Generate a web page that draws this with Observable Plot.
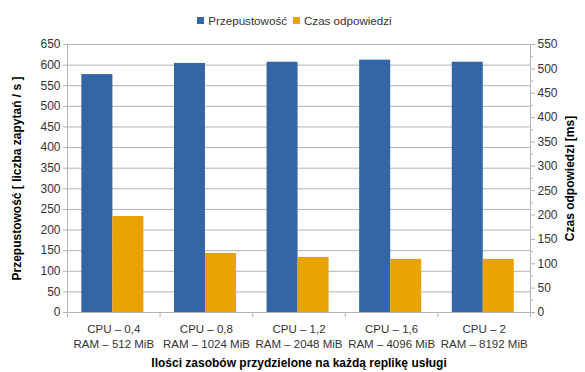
<!DOCTYPE html>
<html>
<head>
<meta charset="utf-8">
<script src="https://cdn.jsdelivr.net/npm/d3@7"></script>
<script src="https://cdn.jsdelivr.net/npm/@observablehq/plot@0.6"></script>
<style>
  body { margin: 0; background: #fff; font-family: "Liberation Sans", Arial, sans-serif; }
  #legend { height: 30px; box-sizing: border-box; padding-top: 11px; display: flex; justify-content: center;
            font-size: 11.6px; line-height: 14px; color: #333; padding-left: 4px; }
  #legend .item { display: flex; align-items: center; margin: 0 3px; }
  #legend .sw { width: 7px; height: 7px; margin-right: 4px; }
</style>
</head>
<body>
<div id="legend"></div>
<div id="chart"></div>
<script>
// Resource configurations assigned to each service replica
const categories = [
  "CPU – 0,4\nRAM – 512 MiB",
  "CPU – 0,8\nRAM – 1024 MiB",
  "CPU – 1,2\nRAM – 2048 MiB",
  "CPU – 1,6\nRAM – 4096 MiB",
  "CPU – 2\nRAM – 8192 MiB"
];
// Throughput [requests / s] (left axis)
const throughput = [577, 604, 607, 612, 607];
// Response time [ms] (right axis)
const responseTime = [197, 121, 113, 109, 109];

const seriesNames = ["Przepustowość", "Czas odpowiedzi"];
const seriesColors = ["#3465a4", "#e8a202"];

const leftTicks = d3.range(0, 651, 50);
const rightTicks = d3.range(0, 551, 50);
const rightMinorTicks = d3.range(25, 551, 50);

const leftMax = 650, rightMax = 550;
const k = leftMax / rightMax; // right-axis units -> left-axis units

// legend
const legend = document.getElementById("legend");
seriesNames.forEach((name, i) => {
  const item = document.createElement("div");
  item.className = "item";
  const sw = document.createElement("span");
  sw.className = "sw";
  sw.style.background = seriesColors[i];
  item.appendChild(sw);
  item.appendChild(document.createTextNode(name));
  legend.appendChild(item);
});

// bar layout within each category band
const groupCenter = 0.49, barWidth = 0.335;
const rows = categories.flatMap((c, i) => [
  {i, s: 0, series: seriesNames[0], v: throughput[i]},
  {i, s: 1, series: seriesNames[1], v: responseTime[i] * k}
]);

const gridColor = "#b3b3b3";
const textColor = "#333";

const chart = Plot.plot({
  width: 585,
  height: 342,
  marginTop: 14,
  marginBottom: 60,
  marginLeft: 67,
  marginRight: 55,
  style: {fontFamily: "Liberation Sans, Arial, sans-serif", fontSize: "12px", color: textColor, background: "#fff"},
  x: {domain: [0, categories.length]},
  y: {domain: [0, leftMax]},
  color: {domain: seriesNames, range: seriesColors},
  marks: [
    Plot.gridY(leftTicks, {stroke: gridColor, strokeOpacity: 1}),
    Plot.rect(rows, {
      x1: d => d.i + groupCenter - barWidth + d.s * barWidth,
      x2: d => d.i + groupCenter + d.s * barWidth,
      y1: 0, y2: "v", fill: "series"
    }),
    Plot.ruleX([0, categories.length], {stroke: gridColor}),
    Plot.ruleY([0], {stroke: gridColor}),
    // left axis
    Plot.axisY({ticks: leftTicks, tickSize: 4, tickPadding: 3, stroke: gridColor, fill: textColor, label: null}),
    // right axis (response time)
    Plot.axisY({anchor: "right", ticks: rightTicks.map(v => v * k), tickFormat: d => String(Math.round(d / k)),
                tickSize: 4, tickPadding: 3, stroke: gridColor, fill: textColor, label: null}),
    Plot.axisY({anchor: "right", ticks: rightMinorTicks.map(v => v * k), tickFormat: () => "",
                tickSize: 2, stroke: gridColor, label: null}),
    // category boundaries and labels
    Plot.axisX({ticks: d3.range(0, categories.length + 1), tickFormat: () => "", tickSize: 5, stroke: gridColor, label: null}),
    Plot.axisX({ticks: categories.map((c, i) => i + 0.5), tickFormat: d => categories[Math.floor(d)],
                tickSize: 0, tickPadding: 10, lineHeight: 1.3, fontSize: 11.5, fill: textColor, label: null}),
    // axis titles
    Plot.text(["Przepustowość [ liczba zapytań / s ]"], {frameAnchor: "left", textAnchor: "middle", rotate: -90, dx: -50,
               fontWeight: "bold", fontSize: 12, fill: "#000"}),
    Plot.text(["Czas odpowiedzi [ms]"], {frameAnchor: "right", textAnchor: "middle", rotate: -90, dx: 40,
               fontWeight: "bold", fontSize: 12, fill: "#000"}),
    Plot.text(["Ilości zasobów przydzielone na każdą replikę usługi"], {frameAnchor: "bottom", dy: 54,
               fontWeight: "bold", fontSize: 12, fill: "#000"})
  ]
});
document.getElementById("chart").appendChild(chart);
</script>
</body>
</html>
